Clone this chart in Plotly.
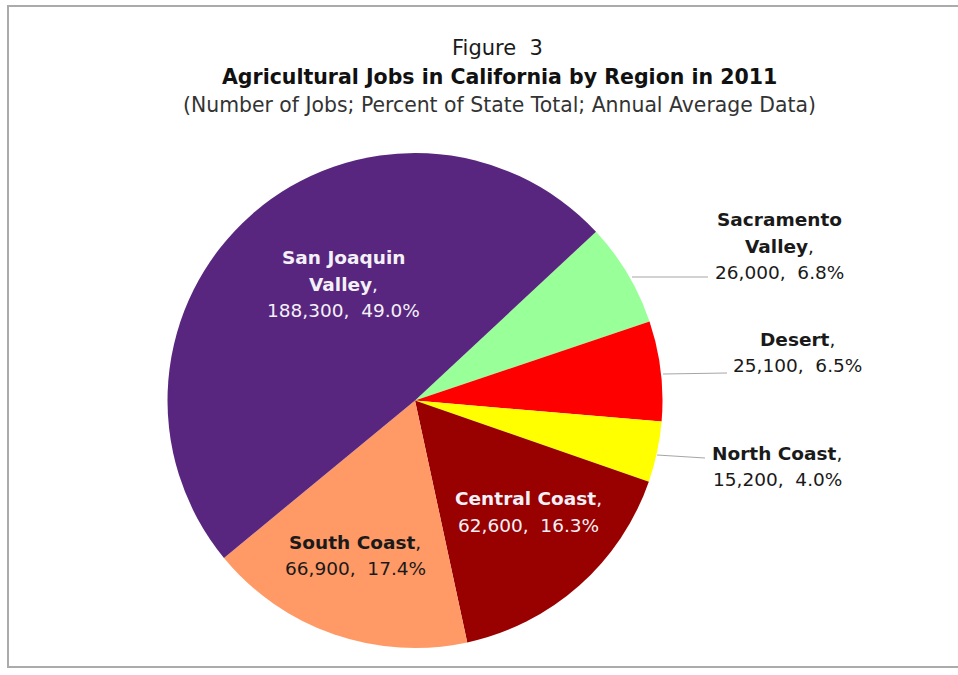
import plotly.graph_objects as go

regions = ["Sacramento Valley", "Desert", "North Coast", "Central Coast", "South Coast", "San Joaquin Valley"]
jobs = [26000, 25100, 15200, 62600, 66900, 188300]
percents = [6.8, 6.5, 4.0, 16.3, 17.4, 49.0]
colors = ["#99FF99", "#FF0000", "#FFFF00", "#990000", "#FF9966", "#58267E"]

W, H = 958, 675
FONT = "DejaVu Sans, Arial, sans-serif"

def px(x, y):
    return x / W, 1 - y / H

dx0, dy0 = px(167, 648)
dx1, dy1 = px(663, 153)

fig = go.Figure(go.Pie(
    labels=regions,
    values=jobs,
    sort=False,
    direction="clockwise",
    rotation=47,
    marker=dict(colors=colors, line=dict(width=0)),
    textinfo="none",
    hoverinfo="label+value+percent",
    showlegend=False,
    domain=dict(x=[dx0, dx1], y=[dy0, dy1]),
))

annotations = []

def add_text(text, x, y, size, color="#000000", bold=False):
    ax, ay = px(x, y)
    if bold:
        text = "<b>" + text + "</b>"
    annotations.append(dict(text=text, x=ax, y=ay, xref="paper", yref="paper",
                            xanchor="center", yanchor="middle", showarrow=False,
                            font=dict(family=FONT, size=size, color=color)))

# Titles
add_text("Figure\u00a0\u00a03", 498, 48, 21, color="#1A1A1A")
add_text("Agricultural Jobs in California by Region in 2011", 499, 77, 20.5, color="#111111", bold=True)
add_text("(Number of Jobs; Percent of State Total; Annual Average Data)", 499, 105, 20.4, color="#333333")

def fmt(i):
    return f"{jobs[i]:,},\u00a0\u00a0{percents[i]:.1f}%"

LS = 18.5
WHITE = "#F4F0F8"
DARK = "#1A1A1A"
# San Joaquin Valley (index 5)
add_text("San Joaquin", 343, 257, LS, WHITE, bold=True)
add_text("<b>Valley</b>,", 343, 284, LS, WHITE)
add_text(fmt(5), 343, 310, LS, WHITE)
# Sacramento Valley
add_text("Sacramento", 779, 219, LS, DARK, bold=True)
add_text("<b>Valley</b>,", 779, 246, LS, DARK)
add_text(fmt(0), 779, 272, LS, DARK)
# Desert
add_text("<b>Desert</b>,", 797, 339, LS, DARK)
add_text(fmt(1), 797, 365, LS, DARK)
# North Coast
add_text("<b>North Coast</b>,", 777, 453, LS, DARK)
add_text(fmt(2), 777, 479, LS, DARK)
# Central Coast
add_text("<b>Central Coast</b>,", 528, 498, LS, WHITE)
add_text(fmt(3), 528, 525, LS, WHITE)
# South Coast
add_text("<b>South Coast</b>,", 355, 542, LS, DARK)
add_text(fmt(4), 355, 568, LS, DARK)

shapes = []
def line(x0, y0, x1, y1):
    a0, b0 = px(x0, y0)
    a1, b1 = px(x1, y1)
    shapes.append(dict(type="line", xref="paper", yref="paper", x0=a0, y0=b0, x1=a1, y1=b1,
                       line=dict(color="#A6A6A6", width=1.2)))

line(632, 277, 708, 277)
line(663, 374, 727, 373)
line(657, 455, 705, 458)

# frame border
fx0, fy0 = px(8, 6)
fx1, fy1 = px(990, 667)
shapes.append(dict(type="rect", xref="paper", yref="paper", x0=fx0, y0=fy1, x1=fx1, y1=fy0,
                   line=dict(color="#ABABAB", width=2), fillcolor="rgba(0,0,0,0)"))

fig.update_layout(
    width=W, height=H,
    margin=dict(l=0, r=0, t=0, b=0),
    paper_bgcolor="#FFFFFF",
    plot_bgcolor="#FFFFFF",
    annotations=annotations,
    shapes=shapes,
    font=dict(family=FONT),
)

fig.write_html("out.html", config={"displayModeBar": False},
               post_script="document.body.style.margin='0';document.body.style.padding='0';")
